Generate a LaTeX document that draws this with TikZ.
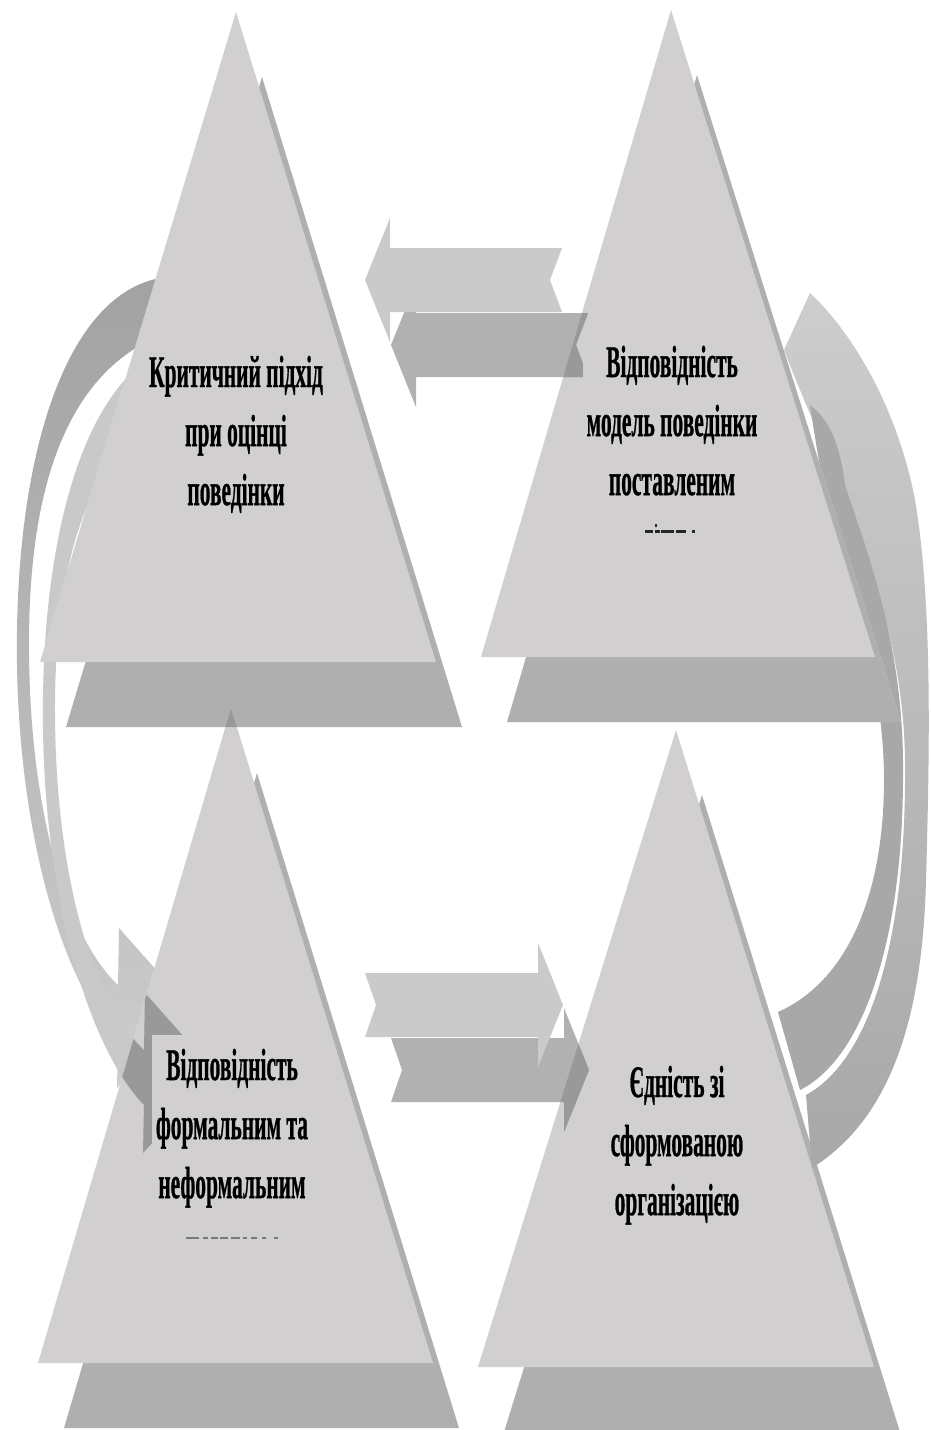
\documentclass[tikz,border=0pt]{standalone}
\usepackage{fontspec}
\setmainfont{Liberation Serif}[BoldFeatures={FakeBold=1}]
\usepackage{graphicx}
\definecolor{trifront}{HTML}{D1CFD0}
\definecolor{triback}{HTML}{AFAFAF}
\definecolor{overlap}{HTML}{999999}
\definecolor{arrlight}{HTML}{CBCACB}
\definecolor{arrdark}{HTML}{B1B1B1}
\definecolor{arcdark}{HTML}{A8A8A8}
\definecolor{arcdarker}{HTML}{A2A2A2}
\definecolor{arclight}{HTML}{C9C9C9}
\definecolor{arcpale}{HTML}{CDCDCD}
\definecolor{markgray}{HTML}{7A7A7A}

% tall condensed label: three centred lines, stretched vertically
\newcommand{\tallText}[1]{\scalebox{1}[2.1]{\fontsize{12.2}{16}\selectfont\bfseries
  \begin{tabular}[t]{@{}c@{}}#1\end{tabular}}}

% triangle outlines (front faces)
\def\triTL{(236,12) -- (40,662) -- (436,662) -- cycle}
\def\triTR{(671,10) -- (481,657) -- (875,657) -- cycle}
\def\triTRback{(697,75) -- (507,722) -- (901,722) -- cycle}
\def\triBL{(231,708) -- (38,1363) -- (433,1363) -- cycle}
\def\triBR{(676,730) -- (478,1367) -- (874,1367) -- cycle}

% straight arrows (light faces)
\def\arrTop{(365,280) -- (390,218) -- (390,248) -- (562,248) -- (550,280) -- (562,312) -- (390,312) -- (390,342) -- cycle}
\def\arrBot{(563,1005) -- (538,943) -- (538,973) -- (365,973) -- (376,1005) -- (365,1037) -- (538,1037) -- (538,1067) -- cycle}

% left curved arrow (one copy; the second copy is this one shifted)
\def\arcLeft{(160,278) .. controls (70,295) and (20,440) .. (17,630)
  .. controls (14,820) and (60,980) .. (118,1040) -- (117,1088) -- (190,1008) -- (119,928) -- (118,985)
  .. controls (70,940) and (30,820) .. (29,650) .. controls (28,480) and (70,380) .. (150,340) -- cycle}
% right curved arrow: light outer ribbon with its point at the top
\def\arcRightOuter{(812,1168) .. controls (880,1125) and (922,1040) .. (926,880)
  .. controls (930,740) and (932,600) .. (915,500) .. controls (900,420) and (860,340) .. (810,293)
  -- (784,350) .. controls (830,470) and (903,600) .. (905,760)
  .. controls (907,940) and (870,1060) .. (806,1095) -- cycle}
% right curved arrow: dark inner ribbon ending in a blade, running along the triangle
\def\arcRightInner{(810,405) .. controls (830,420) and (840,445) .. (845,485)
  .. controls (870,560) and (905,650) .. (903,780) .. controls (902,950) and (860,1060) .. (800,1090)
  -- (778,1012) .. controls (850,980) and (884,890) .. (884,780)
  .. controls (884,680) and (850,580) .. (830,520) .. controls (822,480) and (816,445) .. (810,405) -- cycle}

\begin{document}
\begin{tikzpicture}[x=0.02cm,y=-0.02cm,
  lbl/.style={anchor=base, inner sep=2pt, fill=trifront},
  marks/.style={anchor=base, inner sep=0pt}]
\useasboundingbox (0,0) rectangle (930,1430);
\fill[white] (0,0) rectangle (930,1430);
\clip (0,0) rectangle (930,1430);

% ---- triangles: darker body offset behind, light face in front
\fill[triback, shift={(26,65)}] \triTL;
\fill[trifront] \triTL;
\fill[triback] \triTRback;
\fill[trifront] \triTR;
\fill[triback, shift={(26,65)}] \triBL;
\fill[trifront] \triBL;
\begin{scope}
  \clip[shift={(26,65)}] \triTL;
  \fill[overlap] \triBL;
\end{scope}
\fill[triback, shift={(26,65)}] \triBR;
\fill[trifront] \triBR;

% ---- left curved arrow: back copy stays outside both triangles it touches
\begin{scope}[even odd rule]
  \clip (-10,-10) rectangle (940,1440) \triTL;
  \begin{scope}
    \clip (-10,-10) rectangle (940,1440) \triBL;
    \shade[top color=arcdarker, bottom color=arcpale] \arcLeft;
  \end{scope}
  \fill[arclight, shift={(26,65)}] \arcLeft;
\end{scope}
\begin{scope}
  \clip \triBL;
  \fill[overlap, shift={(26,65)}] \arcLeft;
\end{scope}

% ---- right curved arrow (tail behind the lower-right triangle,
%      dark ribbon tucked behind the upper-right triangle)
\begin{scope}[even odd rule]
  \clip (-10,-10) rectangle (940,1440) \triBR;
  \shade[top color=arcpale, bottom color=arcdark] \arcRightOuter;
  \begin{scope}
    \clip (-10,-10) rectangle (940,1440) \triTR;
    \clip (-10,-10) rectangle (940,1440) \triTRback;
    \fill[arcdark] \arcRightInner;
  \end{scope}
\end{scope}

% ---- straight arrows
\fill[arrdark, shift={(26,65)}] \arrTop;
\fill[arrlight] \arrTop;
\begin{scope}
  \clip \triTR;
  \fill[overlap, shift={(26,65)}] \arrTop;
\end{scope}
\fill[arrdark, shift={(26,65)}] \arrBot;
\fill[arrlight] \arrBot;
\begin{scope}
  \clip \triBR;
  \fill[overlap, shift={(26,65)}] \arrBot;
\end{scope}

% ---- labels
\node[lbl] (critical) at (236,387) {\tallText{Критичний підхід\\при оцінці\\поведінки}};
\node[lbl] (model) at (672,377) {\tallText{Відповідність\\модель поведінки\\поставленим}};
\node[lbl] (formal) at (232,1080) {\tallText{Відповідність\\формальним та\\неформальним}};
\node[lbl] (unity) at (677,1097) {\tallText{Єдність зі\\сформованою\\організацією}};

\node[marks] (modelMarks) at (670,533) {\color{black!85}%
  \rule{4.5pt}{1.6pt}\hspace{1.1pt}\rule{3pt}{1.6pt}\hspace{-2.6pt}\raisebox{3.2pt}{\rule{1.2pt}{2.2pt}}\hspace{2.2pt}%
  \rule{7.5pt}{1.6pt}\hspace{1.1pt}\rule{5.5pt}{1.6pt}\hspace{3.5pt}\rule{1.7pt}{1.6pt}};
\node[marks] (formalMarks) at (232,1239) {\color{markgray}%
  \rule{7.3pt}{1.2pt}\hspace{2.2pt}\rule{2.8pt}{1.2pt}\hspace{1.7pt}\rule{4pt}{1.2pt}\hspace{1.1pt}%
  \rule{4.5pt}{1.2pt}\hspace{2.2pt}\rule{5pt}{1.2pt}\hspace{1.7pt}\rule{2.3pt}{1.2pt}\hspace{2.2pt}%
  \rule{3.4pt}{1.2pt}\hspace{2.8pt}\rule{2.3pt}{1.2pt}\hspace{4.5pt}\rule{2.3pt}{1.2pt}};
\end{tikzpicture}
\end{document}
